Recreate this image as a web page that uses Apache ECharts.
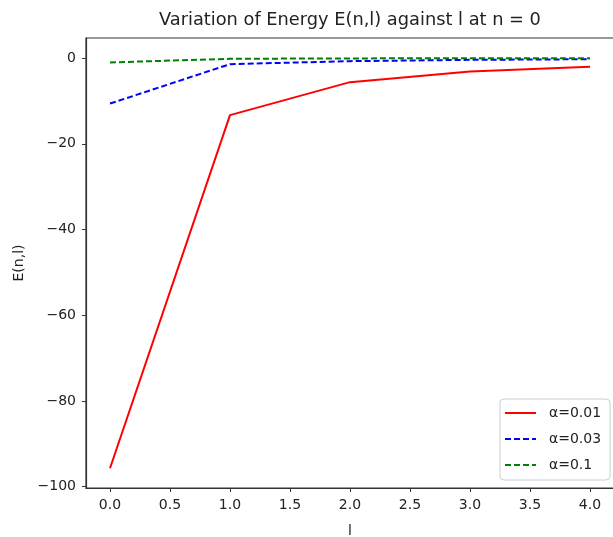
<!DOCTYPE html>
<html>
<head>
<meta charset="utf-8">
<script src="https://cdn.jsdelivr.net/npm/echarts@6/dist/echarts.min.js"></script>
<style>html,body{margin:0;padding:0;background:#fff;}#c{width:613px;height:537px;}</style>
</head>
<body>
<div id="c"></div>
<script>
const lValues = [0, 1, 2, 3, 4];
const alpha001 = [-95.7, -13.3, -5.6, -3.1, -2.0];
const alpha003 = [-10.6, -1.4, -0.7, -0.4, -0.25];
const alpha01 = [-1.0, -0.15, -0.06, -0.03, -0.02];
const xTicks = [0.0, 0.5, 1.0, 1.5, 2.0, 2.5, 3.0, 3.5, 4.0];
const yTicks = [0, -20, -40, -60, -80, -100];

const pairs = arr => lValues.map((l, i) => [l, arr[i]]);
const font = 'DejaVu Sans';
const chart = echarts.init(document.getElementById('c'));
chart.setOption({
  animation: false,
  backgroundColor: '#fff',
  title: {
    text: 'Variation of Energy E(n,l) against l at n = 0',
    left: 154, top: 6,
    textStyle: {fontFamily: font, fontSize: 17.8, fontWeight: 'normal', color: '#222'}
  },
  grid: {left: 86, top: 38, width: 528, height: 450, containLabel: false,
    outerBoundsMode: 'none',
    show: true, borderColor: '#333', borderWidth: 1.2, backgroundColor: 'transparent'},
  xAxis: {
    type: 'value', min: -0.2, max: 4.2,
    name: 'l', nameLocation: 'middle', nameGap: 36,
    nameTextStyle: {fontFamily: font, fontSize: 14, color: '#222'},
    axisLine: {onZero: false, lineStyle: {color: '#333', width: 1.2}},
    axisTick: {show: true, length: 4, lineStyle: {color: '#333'},
      customValues: xTicks},
    axisLabel: {fontFamily: font, fontSize: 14, color: '#222', margin: 10,
      customValues: xTicks, formatter: v => v.toFixed(1)},
    splitLine: {show: false}
  },
  yAxis: {
    type: 'value', min: -100.3, max: 4.7,
    name: 'E(n,l)', nameLocation: 'middle', nameGap: 60, nameRotate: 90,
    nameTextStyle: {fontFamily: font, fontSize: 14, color: '#222'},
    axisLine: {show: true, onZero: false, lineStyle: {color: '#333', width: 1.2}},
    axisTick: {show: true, length: 4, lineStyle: {color: '#333'}, customValues: yTicks},
    axisLabel: {fontFamily: font, fontSize: 14, color: '#222', margin: 10,
      customValues: yTicks, formatter: v => (v < 0 ? '\u2212' + Math.abs(v) : String(v))},
    splitLine: {show: false}
  },
  legend: {
    orient: 'vertical', left: 500, top: 399,
    itemWidth: 31, itemHeight: 12, itemGap: 12,
    backgroundColor: '#fff', borderColor: '#ccc', borderWidth: 1, borderRadius: 4,
    padding: [7, 9, 8, 4],
    textStyle: {fontFamily: font, fontSize: 14, color: '#222', padding: [0, 0, 0, 8]},
    itemStyle: {opacity: 0},
    data: ['\u03b1=0.01', '\u03b1=0.03', '\u03b1=0.1']
  },
  series: [
    {name: '\u03b1=0.01', type: 'line', data: pairs(alpha001), symbol: 'none',
      lineStyle: {color: '#ff0000', width: 2}, itemStyle: {color: '#ff0000'}},
    {name: '\u03b1=0.03', type: 'line', data: pairs(alpha003), symbol: 'none',
      lineStyle: {color: '#0000ff', width: 2, type: [6, 3]}, itemStyle: {color: '#0000ff'}},
    {name: '\u03b1=0.1', type: 'line', data: pairs(alpha01), symbol: 'none',
      lineStyle: {color: '#008000', width: 2, type: [6, 3]}, itemStyle: {color: '#008000'}}
  ]
});
</script>
</body>
</html>
